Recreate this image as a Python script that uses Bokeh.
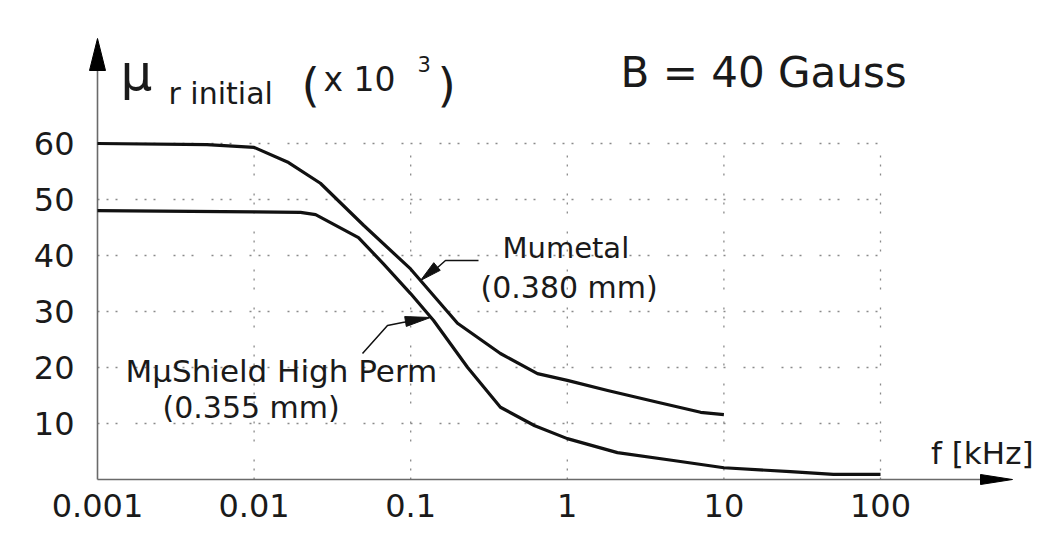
import numpy as np
from bokeh.plotting import figure
from bokeh.models import Range1d, FixedTicker, Label
from bokeh.embed import file_html
from bokeh.resources import INLINE

# ---------------- data ----------------
frequency_ticks = [0.001, 0.01, 0.1, 1, 10, 100]
frequency_tick_labels = ["0.001", "0.01", "0.1", "1", "10", "100"]
mu_ticks = [10, 20, 30, 40, 50, 60]
mu_tick_labels = ["10", "20", "30", "40", "50", "60"]

mumetal_f = [0.001, 0.005, 0.01, 0.0166, 0.0265, 0.05, 0.0998, 0.199,
             0.374, 0.645, 1.0, 1.81, 3.77, 7.1, 10.0]
mumetal_mu = [60.0, 59.8, 59.3, 56.6, 52.9, 45.4, 37.6, 27.9,
              22.5, 18.9, 17.7, 15.9, 13.8, 12.0, 11.6]

mushield_f = [0.001, 0.01, 0.0198, 0.0247, 0.0464, 0.067, 0.0998, 0.14, 0.231,
              0.374, 0.62, 1.0, 2.09, 4.76, 10.0, 26.6, 50.0, 100.0]
mushield_mu = [48.0, 47.8, 47.7, 47.3, 43.2, 38.5, 33.2, 28.4, 20.0,
               12.9, 9.6, 7.3, 4.8, 3.4, 2.1, 1.4, 0.9, 0.9]

# ---------------- layout ----------------
W, H = 1038, 543
ORIGIN_X, ORIGIN_Y = 97, 479          # pixel position of (0.001, 0)
FRAME_L, FRAME_B = 87, 487            # frame edges, slightly outside the axes
PX_PER_DECADE = 156.6
PX_PER_UNIT = 5.6
X_ORIGIN = frequency_ticks[0]


def fx(px):
    return X_ORIGIN * 10 ** ((px - ORIGIN_X) / PX_PER_DECADE)


def fy(py):
    return (ORIGIN_Y - py) / PX_PER_UNIT


def head(tip, back, width):
    tx, ty = tip
    bx, by = back
    dx, dy = tx - bx, ty - by
    n = (dx * dx + dy * dy) ** 0.5
    px, py = -dy / n * width / 2, dx / n * width / 2
    pts = [(tx, ty), (bx + px, by + py), (bx - px, by - py)]
    return [fx(a) for a, _ in pts], [fy(b) for _, b in pts]


FONT = "DejaVu Sans"
INK = "#1a1a1a"

p = figure(frame_width=W - FRAME_L, frame_height=FRAME_B, x_axis_type="log",
           x_range=Range1d(fx(FRAME_L), fx(W)), y_range=Range1d(fy(FRAME_B), fy(0)),
           output_backend="svg", toolbar_location=None)
p.min_border = 0
p.min_border_left = FRAME_L
p.min_border_bottom = H - FRAME_B
p.outline_line_color = None
p.background_fill_color = "white"
p.border_fill_color = "white"
p.xgrid.visible = False
p.ygrid.visible = False

# axes (labels only; lines drawn as arrows)
p.xaxis.ticker = FixedTicker(ticks=frequency_ticks)
p.xaxis.major_label_overrides = dict(zip(frequency_ticks, frequency_tick_labels))
p.yaxis.ticker = FixedTicker(ticks=mu_ticks)
p.yaxis.major_label_overrides = dict(zip(mu_ticks, mu_tick_labels))
for ax in (p.xaxis, p.yaxis):
    ax.axis_line_color = None
    ax.major_tick_line_color = None
    ax.minor_tick_line_color = None
    ax.major_label_text_font = FONT
    ax.major_label_text_font_size = "32px"
    ax.major_label_text_color = INK
p.xaxis.major_label_standoff = 0
p.yaxis.major_label_standoff = 7

# dotted grid limited to the data area
grid_kw = dict(line_color="#8a8a8a", line_width=1.3, line_dash="2 7 2 7 2 18")
p.segment(x0=frequency_ticks[1:], y0=[0] * (len(frequency_ticks) - 1),
          x1=frequency_ticks[1:], y1=[max(mu_ticks)] * (len(frequency_ticks) - 1), **grid_kw)
p.segment(x0=[frequency_ticks[0]] * len(mu_ticks), y0=mu_ticks,
          x1=[frequency_ticks[-1]] * len(mu_ticks), y1=mu_ticks, **grid_kw)

# axis lines with arrow heads
AX = "#6a6a6a"
p.segment(x0=[X_ORIGIN], y0=[0], x1=[fx(985)], y1=[0], line_color=AX, line_width=1.6)
p.segment(x0=[X_ORIGIN], y0=[0], x1=[X_ORIGIN], y1=[fy(65)], line_color=AX, line_width=1.6)
hx, hy = head((1012, 479), (980, 479), 10)
p.patch(hx, hy, fill_color="black", line_color="black")
hx, hy = head((97, 38), (97, 70), 16)
p.patch(hx, hy, fill_color="black", line_color="black")

# curves
p.line(mumetal_f, mumetal_mu, line_color="#111111", line_width=3.2, line_join="round")
p.line(mushield_f, mushield_mu, line_color="#111111", line_width=3.2, line_join="round")

# leader arrows
p.line([fx(478), fx(445), fx(432)], [fy(260), fy(260), fy(271.5)],
       line_color="#111111", line_width=1.5)
hx, hy = head((420, 280), (436.5, 266), 10)
p.patch(hx, hy, fill_color="#111111", line_color="#111111")

p.line([fx(362), fx(387), fx(402), fx(408)], [fy(353), fy(325), fy(322), fy(321)],
       line_color="#111111", line_width=1.5)
hx, hy = head((430, 317), (405, 321), 10)
p.patch(hx, hy, fill_color="#111111", line_color="#111111")


def label(px, py, text, size, align="left"):
    p.add_layout(Label(x=fx(px), y=fy(py - 0.32 * size), text=text, text_font=FONT,
                       text_font_size=f"{size}px", text_color=INK,
                       text_align=align, text_baseline="alphabetic"))


# axis title pieces
label(120, 88, "μ", 50)
label(168, 103, "r initial", 30)
label(301, 99, "(", 47)
label(323, 90, "x 10", 33)
label(417, 70, "3", 21)
label(437, 99, ")", 47)
label(620, 85, "B = 40 Gauss", 42)
label(1033, 462, "f [kHz]", 31, align="right")

# curve labels
label(502, 257, "Mumetal", 29)
label(480, 297, "(0.380 mm)", 30)
label(125, 380, "MμShield High Perm", 31)
label(162, 417, "(0.355 mm)", 30)

open("out.html", "w").write(file_html(p, INLINE))
